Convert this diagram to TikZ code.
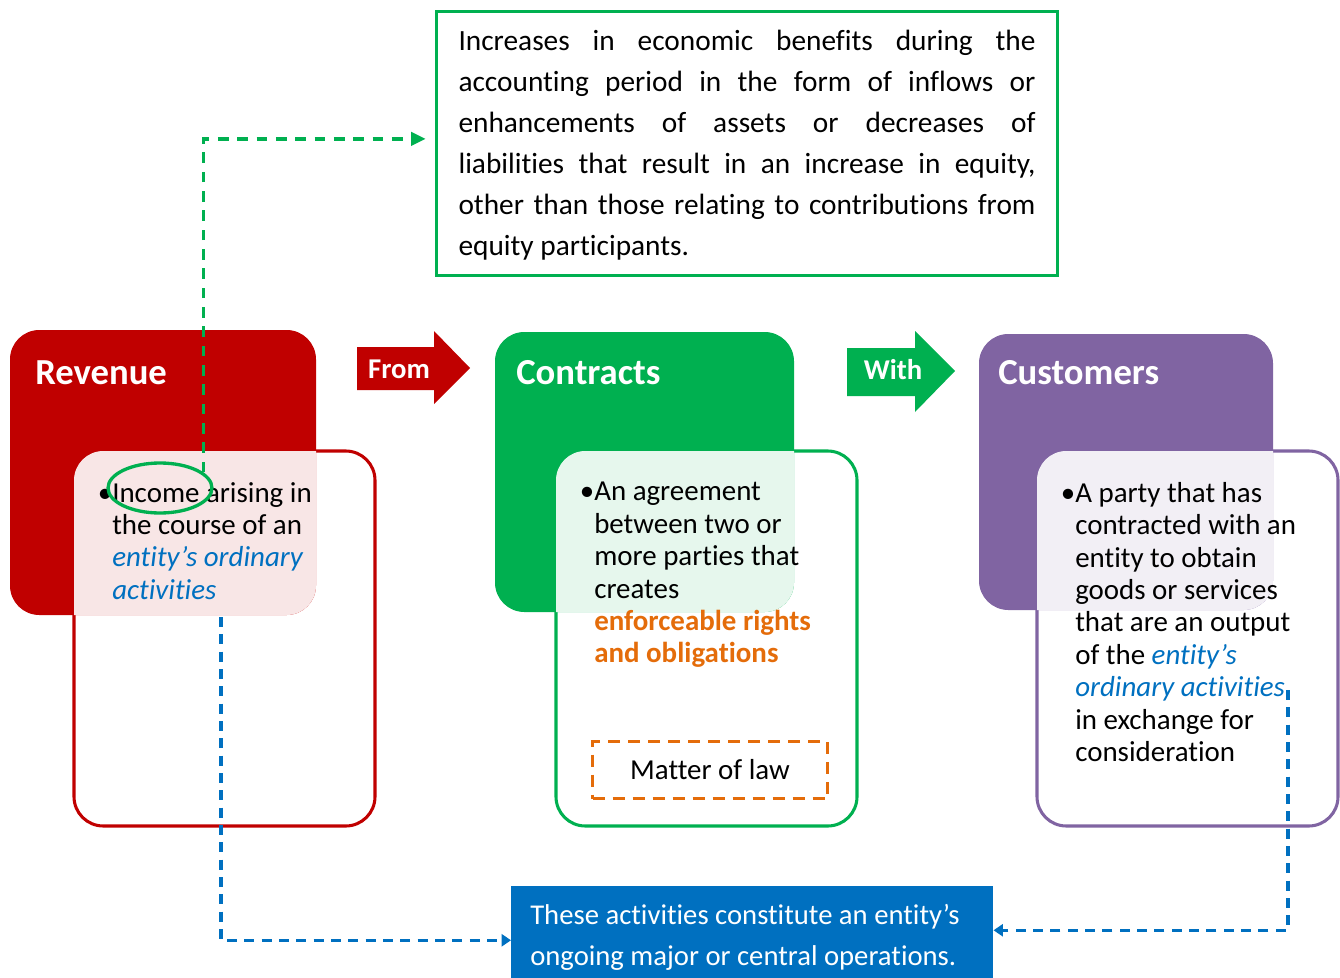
\documentclass[tikz,border=0pt]{standalone}
\usepackage{fontspec}
\setmainfont{Carlito}[Ligatures={NoCommon}]
\usetikzlibrary{shapes.geometric,arrows.meta}
\definecolor{revred}{RGB}{192,0,0}
\definecolor{congreen}{RGB}{0,176,80}
\definecolor{cuspurple}{RGB}{128,100,162}
\definecolor{accblue}{RGB}{0,112,192}
\definecolor{accorange}{RGB}{228,108,10}
\newcommand{\blueit}[1]{\textcolor{accblue}{\itshape #1}}
\tikzset{
 bigbox/.style={anchor=north west, inner sep=0pt, outer sep=0pt, rounded corners=22pt},
 outlinebox/.style={bigbox, draw=#1, line width=2.3pt, minimum width=225.75pt, minimum height=281.25pt},
 fillbox/.style={bigbox, fill=#1},
 boxtitle/.style={anchor=base west, text=white, font=\fontsize{27.5}{30}\selectfont\bfseries, inner sep=0pt},
 bodytext/.style={anchor=north west, inner sep=0pt, align=left, font=\fontsize{21.7}{24.3}\selectfont},
 arrowlabel/.style={text=white, font=\fontsize{21.5}{24}\selectfont\bfseries, inner sep=0pt},
 gdash/.style={draw=congreen, line width=2.5pt, dash pattern=on 8pt off 6.5pt, -{Triangle[length=11pt,width=10pt]}},
 bdash/.style={draw=accblue, line width=2.5pt, dash pattern=on 7.5pt off 5.5pt, -{Triangle[length=7pt,width=9pt]}}
}
\begin{document}
\begin{tikzpicture}[x=0.75pt,y=-0.75pt]
\useasboundingbox (0,0) rectangle (1340,978);
% outline boxes
\node[outlinebox=revred] (revin) at (74,451) {};
\node[outlinebox=congreen] (conin) at (556,451) {};
\node[outlinebox=cuspurple] (cusin) at (1037,451) {};
% filled boxes
\node[fillbox=revred, minimum width=229.5pt, minimum height=213.75pt] (rev) at (10,330) {};
\node[fillbox=congreen, minimum width=224.25pt, minimum height=210pt] (con) at (495,332) {};
\node[fillbox=cuspurple, minimum width=220.5pt, minimum height=207pt] (cus) at (979,334) {};
% overlaps
\foreach \a/\b in {revin/rev, conin/con, cusin/cus} {
 \begin{scope}
 \clip[rounded corners=22pt] (\a.north west) rectangle (\a.south east);
 \fill[white, fill opacity=0.9, rounded corners=22pt] (\b.north west) rectangle (\b.south east);
 \end{scope}
}
% titles
\node[boxtitle] (revt) at (35,384) {Revenue};
\node[boxtitle] (cont) at (516,384) {Contracts};
\node[boxtitle] (cust) at (998,384) {Customers};
% block arrows
\fill[revred] (357,347) -- (434,347) -- (434,331) -- (470,368) -- (434,404) -- (434,390) -- (357,390) -- cycle;
\node[arrowlabel] (from) at (399,369) {From};
\fill[congreen] (847,348) -- (915,348) -- (915,331) -- (955,371) -- (915,412) -- (915,396) -- (847,396) -- cycle;
\node[arrowlabel] (with) at (893,370) {With};
% body texts
\node[bodytext] (revtxt) at (112,482) {\llap{•}Income arising in\\the course of an\\\blueit{entity’s ordinary}\\\blueit{activities}};
\node[bodytext] (contxt) at (594,482) {\llap{•}An agreement\\between two or\\more parties that\\creates\\\textcolor{accorange}{\bfseries enforceable rights}\\\textcolor{accorange}{\bfseries and obligations}};
\node[bodytext] (custxt) at (1075,482) {\llap{•}A party that has\\contracted with an\\entity to obtain\\goods or services\\that are an output\\of the \blueit{entity’s}\\\blueit{ordinary activities}\\in exchange for\\consideration};
% matter of law
\node[anchor=north west, draw=accorange, line width=2.3pt, dash pattern=on 9pt off 6pt, minimum width=176.25pt, minimum height=42.75pt, inner sep=0pt, font=\fontsize{21.7}{24}\selectfont] (law) at (591,740) {Matter of law};
% definition box
\node[anchor=north west, draw=congreen, line width=2.3pt, minimum width=465.75pt, minimum height=198pt, text width=432.75pt, inner xsep=16.5pt, inner ysep=0pt, align=justify, font=\fontsize{22}{30.75}\selectfont] (def) at (435,10) {\rule{0pt}{18pt}Increases in economic benefits during the\linebreak accounting period in the form of inflows or\linebreak enhancements of assets or decreases of\linebreak liabilities that result in an increase in equity,\linebreak other than those relating to contributions from\linebreak equity participants.};
% operations box
\node[anchor=north west, fill=accblue, minimum width=361.5pt, minimum height=69pt, inner sep=0pt] (ops) at (511,886) {};
\node[anchor=north west, inner sep=0pt, align=left, text=white, font=\fontsize{21.5}{30.5}\selectfont] (opstxt) at (530,904) {These activities constitute an entity’s\\ongoing major or central operations.};
% ellipse highlight
\node[ellipse, draw=congreen, line width=2.5pt, minimum width=78pt, minimum height=37.5pt, inner sep=0pt] (ell) at (160,488) {};
% connectors
\draw[gdash, shorten >=7pt] (ell.20) |- ([yshift=3.5pt]def.west);
\coordinate (revs) at (221,617);
\draw[bdash] (revs) |- ([yshift=-6pt]ops.west);
\coordinate (cuss) at (1288,690);
\draw[bdash] (cuss) |- ([yshift=1.5pt]ops.east);
\end{tikzpicture}
\end{document}
